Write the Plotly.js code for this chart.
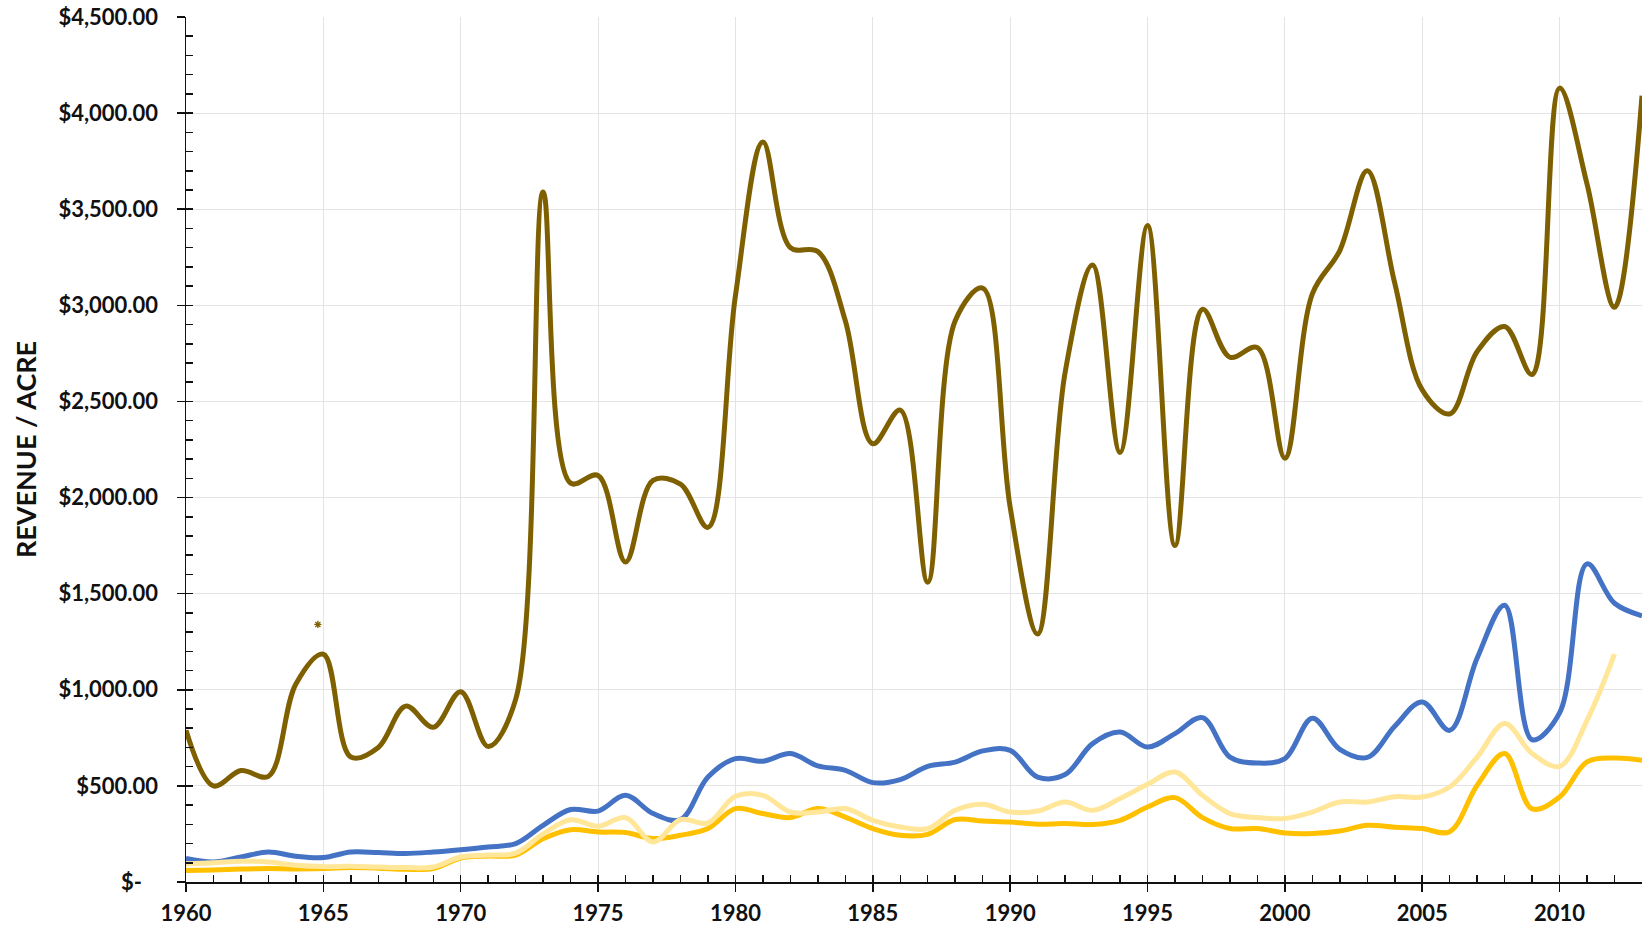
<!DOCTYPE html>
<html>
<head>
<meta charset="utf-8">
<script src="https://cdn.plot.ly/plotly-3.0.1.min.js"></script>
<style>
  html, body { margin: 0; padding: 0; background: #ffffff; }
  #chart { width: 1642px; height: 927px; }
</style>
</head>
<body>
<div id="chart"></div>
<script>
// Revenue per acre by year, four series
const years = [1960, 1961, 1962, 1963, 1964, 1965, 1966, 1967, 1968, 1969,
               1970, 1971, 1972, 1973, 1974, 1975, 1976, 1977, 1978, 1979,
               1980, 1981, 1982, 1983, 1984, 1985, 1986, 1987, 1988, 1989,
               1990, 1991, 1992, 1993, 1994, 1995, 1996, 1997, 1998, 1999,
               2000, 2001, 2002, 2003, 2004, 2005, 2006, 2007, 2008, 2009,
               2010, 2011, 2012, 2013];

const brownSeries = [790, 500, 580, 550, 1030, 1185, 650, 700, 915, 805,
                     990, 705, 950, 3590, 2075, 2115, 1665, 2090, 2070, 1845,
                     3050, 3850, 3300, 3280, 2920, 2280, 2455, 1560, 2920, 3090,
                     1950, 1290, 2650, 3210, 2235, 3415, 1750, 2980, 2730, 2780,
                     2205, 3060, 3285, 3700, 3115, 2560, 2435, 2760, 2890, 2640,
                     4130, 3630, 2990, 4090];

const blueSeries = [122, 104, 130, 156, 134, 127, 156, 153, 148, 156,
                    168, 182, 200, 295, 377, 369, 451, 356, 325, 546,
                    642, 628, 668, 604, 581, 517, 533, 602, 624, 682,
                    685, 546, 559, 720, 780, 702, 772, 855, 650, 619,
                    642, 852, 690, 648, 810, 937, 789, 1165, 1440, 740,
                    880, 1655, 1450, 1385];

const goldSeries = [60, 63, 67, 70, 68, 70, 75, 72, 66, 70,
                    125, 135, 140, 225, 272, 260, 257, 226, 243, 278,
                    382, 356, 335, 382, 338, 278, 243, 248, 325, 317,
                    312, 300, 304, 299, 321, 390, 439, 335, 278, 278,
                    255, 252, 265, 295, 285, 278, 262, 503, 668, 380,
                    442, 625, 645, 633];

const lightGoldSeries = [95, 100, 108, 104, 87, 80, 82, 78, 75, 78,
                         130, 140, 150, 250, 324, 290, 335, 208, 325, 307,
                         446, 451, 364, 364, 382, 321, 286, 278, 373, 404,
                         364, 369, 416, 373, 434, 508, 572, 451, 356, 335,
                         330, 364, 416, 416, 444, 442, 494, 650, 824, 668,
                         602, 841, 1185, null];

// Footnote marker above the 1965 peak
const noteYear = [1964.8];
const noteValue = [1340];

// Axis ticks
const yTickVals = [0, 500, 1000, 1500, 2000, 2500, 3000, 3500, 4000, 4500];
const yTickText = yTickVals.map(v => v === 0
  ? '$-\u00a0\u00a0\u00a0'
  : '$' + v.toLocaleString('en-US', { minimumFractionDigits: 2, maximumFractionDigits: 2 }));
const xTickVals = [1960, 1965, 1970, 1975, 1980, 1985, 1990, 1995, 2000, 2005, 2010];

const FONT = 'Lato, "Open Sans", "DejaVu Sans", sans-serif';
const INK = '#111111';

function seriesTrace(values, color) {
  return {
    x: years, y: values, type: 'scatter', mode: 'lines',
    line: { color: color, width: 5, shape: 'spline', smoothing: 1 },
    connectgaps: false, hoverinfo: 'skip', showlegend: false
  };
}

const traces = [
  seriesTrace(brownSeries, '#7F6000'),
  seriesTrace(blueSeries, '#4472C4'),
  seriesTrace(goldSeries, '#FFC000'),
  seriesTrace(lightGoldSeries, '#FFE699'),
  {
    x: noteYear, y: noteValue, type: 'scatter', mode: 'markers',
    marker: { symbol: 'asterisk-open', size: 6, color: '#7F6000',
              line: { color: '#7F6000', width: 1.3 } },
    hoverinfo: 'skip', showlegend: false
  },
  // empty trace that holds the minor-tick overlay axes
  { x: [], y: [], type: 'scatter', mode: 'lines', xaxis: 'x2', yaxis: 'y2',
    hoverinfo: 'skip', showlegend: false }
];

const tickFont = { family: FONT, size: 22, color: INK, weight: 'bold' };

const layout = {
  width: 1642, height: 927,
  margin: { l: 186, r: 0, t: 17, b: 45, pad: 0 },
  paper_bgcolor: '#ffffff', plot_bgcolor: '#ffffff',
  showlegend: false,
  xaxis: {
    range: [1960, 2013], tickvals: xTickVals, ticktext: xTickVals.map(String),
    ticks: 'outside', ticklen: 8, tickwidth: 1.5, tickcolor: INK,
    showline: true, linecolor: INK, linewidth: 1.5,
    showgrid: true, gridcolor: '#e4e4e4', gridwidth: 1,
    zeroline: false, tickfont: tickFont, ticklabelstandoff: 3,
    fixedrange: true
  },
  xaxis2: {
    overlaying: 'x', anchor: 'y', side: 'bottom',
    range: [1960, 2013], tick0: 1960, dtick: 1,
    ticks: 'inside', ticklen: 7, tickwidth: 1.5, tickcolor: INK,
    showticklabels: false, showgrid: false, showline: false, zeroline: false
  },
  yaxis: {
    range: [0, 4500], tickvals: yTickVals, ticktext: yTickText,
    ticks: 'outside', ticklen: 8, tickwidth: 1.5, tickcolor: INK,
    showline: true, linecolor: INK, linewidth: 1.5,
    showgrid: true, gridcolor: '#e4e4e4', gridwidth: 1,
    zeroline: false, tickfont: tickFont, ticklabelstandoff: 14,
    title: { text: 'REVENUE / ACRE', font: { family: FONT, size: 27, color: INK, weight: 'bold' }, standoff: 14 },
    fixedrange: true
  },
  yaxis2: {
    overlaying: 'y', anchor: 'x', side: 'left',
    range: [0, 4500], tick0: 0, dtick: 100,
    ticks: 'inside', ticklen: 7, tickwidth: 1.5, tickcolor: INK,
    showticklabels: false, showgrid: false, showline: false, zeroline: false
  }
};

Plotly.newPlot('chart', traces, layout, { displayModeBar: false, staticPlot: true });
</script>
</body>
</html>
